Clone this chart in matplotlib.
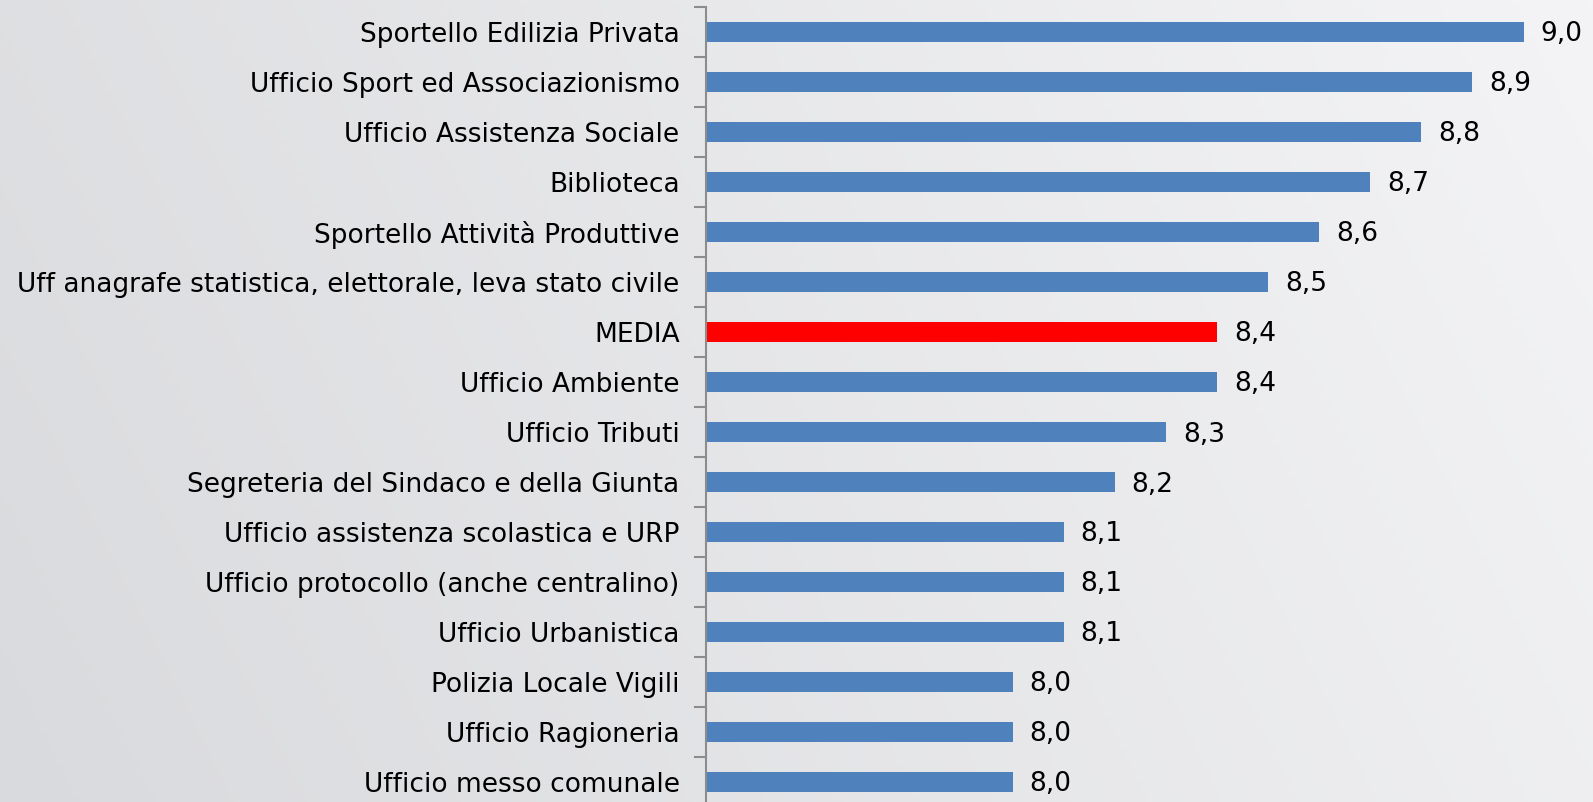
"""
Soddisfazione per ufficio: grafico a barre orizzontali.
"""
import numpy as np
import matplotlib.pyplot as plt

# Dati (dall'alto verso il basso)
uffici = [
    'Sportello Edilizia Privata',
    'Ufficio Sport ed Associazionismo',
    'Ufficio Assistenza Sociale',
    'Biblioteca',
    'Sportello Attività Produttive',
    'Uff anagrafe statistica, elettorale, leva stato civile',
    'MEDIA',
    'Ufficio Ambiente',
    'Ufficio Tributi',
    'Segreteria del Sindaco e della Giunta',
    'Ufficio assistenza scolastica e URP',
    'Ufficio protocollo (anche centralino)',
    'Ufficio Urbanistica',
    'Polizia Locale Vigili',
    'Ufficio Ragioneria',
    'Ufficio messo comunale',
]
punteggi = [9.0, 8.9, 8.8, 8.7, 8.6, 8.5, 8.4, 8.4, 8.3, 8.2, 8.1, 8.1, 8.1, 8.0, 8.0, 8.0]

BLUE = '#4f81bd'
RED = '#ff0000'

W, H = 1593, 802
fig = plt.figure(figsize=(W / 100, H / 100), dpi=100)

# sfondo sfumato grigio
bg = fig.add_axes([0, 0, 1, 1], zorder=-10)
xx, yy = np.meshgrid(np.linspace(0, 1, 300), np.linspace(0, 1, 150))
t = np.clip(0.8 * xx + 0.2 * yy, 0, 1)
left = np.array([0xd9, 0xda, 0xdd]) / 255
right = np.array([0xf4, 0xf4, 0xf6]) / 255
img = left[None, None, :] * (1 - t[..., None]) + right[None, None, :] * t[..., None]
bg.imshow(img, aspect='auto', origin='lower', extent=[0, 1, 0, 1])
bg.axis('off')

# assi: x da 7.4, 511 px per unità, 50 px per categoria
x0_px, unit_px, top_px, row_px = 706, 511, 7, 50
xmin, xmax = 7.4, 9.2
n = len(uffici)
ax = fig.add_axes([x0_px / W, (H - top_px - n * row_px) / H,
                   (xmax - xmin) * unit_px / W, n * row_px / H])
ax.patch.set_alpha(0)

y = np.arange(n)
colors = [RED if u == 'MEDIA' else BLUE for u in uffici]
bars = ax.barh(y, punteggi, height=0.4, color=colors, left=0)
ax.set_xlim(xmin, xmax)
ax.set_ylim(n - 0.5, -0.5)

for b, v in zip(bars, punteggi):
    ax.text(v + 0.033, b.get_y() + b.get_height() / 2 + 0.05, f'{v:.1f}'.replace('.', ','),
            ha='left', va='center', fontsize=19, color='black')

ax.set_yticks(np.arange(n + 1) - 0.5, minor=False)
ax.set_yticklabels([])
ax.set_yticks(y, minor=True)
ax.set_yticklabels(uffici, minor=True, fontsize=19)
ax.tick_params(axis='y', which='major', length=9, width=1.5, color='#8c8c8c')
ax.tick_params(axis='y', which='minor', length=0, pad=19)
ax.set_xticks([])

for s in ['top', 'right', 'bottom']:
    ax.spines[s].set_visible(False)
ax.spines['left'].set_color('#8c8c8c')
ax.spines['left'].set_linewidth(1.5)

fig.savefig('out.png', dpi=100)
